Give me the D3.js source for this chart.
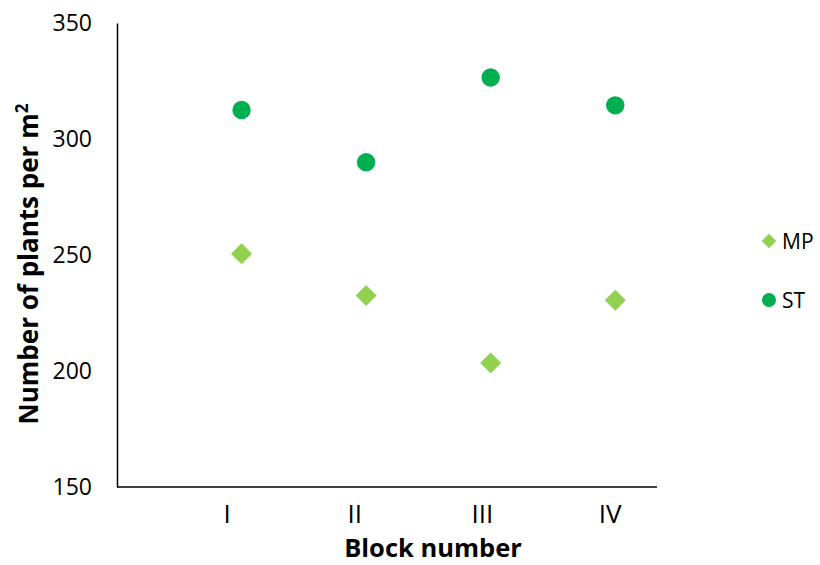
<!DOCTYPE html>
<html>
<head>
<meta charset="utf-8">
<script src="https://cdn.jsdelivr.net/npm/d3@7"></script>
<style>
  html, body { margin: 0; padding: 0; background: #ffffff; }
  svg { display: block; font-family: "Open Sans", "Noto Sans", sans-serif; }
</style>
</head>
<body>
<svg id="chart" width="820" height="565"></svg>
<script>
// Plant density per block for the two sowing methods
const blocks = ["I", "II", "III", "IV"];
const blockIndex = [1, 2, 3, 4];
const mpValues = [250.5, 232.5, 203.5, 230.5];
const stValues = [312.5, 290, 326.5, 314.5];
const yTicks = [150, 200, 250, 300, 350];
const seriesNames = ["MP", "ST"];
const seriesColors = ["#92D050", "#00B050"];

const svg = d3.select("#chart");

const plot = { left: 117, right: 657, top: 23, bottom: 487 };

// y scale for plant counts
const y = d3.scaleLinear().domain([150, 350]).range([plot.bottom, plot.top]);
// x position of the markers along the block axis
const x = d3.scaleLinear().domain([0, 4.335]).range([plot.left, plot.right]);
// x position of the block labels
const xLabel = d3.scalePoint().domain(blocks).range([226.5, 609.5]);

// y axis
const yAxis = svg.append("g")
  .attr("transform", `translate(${plot.left},0)`)
  .call(d3.axisLeft(y).tickValues(yTicks).tickSize(0).tickPadding(25).tickFormat(d3.format("d")));
yAxis.select(".domain").attr("stroke", "#000").attr("stroke-width", 1.5);
yAxis.selectAll("text")
  .attr("font-size", 23)
  .attr("font-family", "'Open Sans', sans-serif")
  .attr("fill", "#000");

// x axis line
svg.append("line")
  .attr("x1", plot.left).attr("x2", plot.right)
  .attr("y1", plot.bottom).attr("y2", plot.bottom)
  .attr("stroke", "#000").attr("stroke-width", 1.5);

// block labels
const xAxis = svg.append("g")
  .attr("transform", `translate(0,${plot.bottom})`)
  .call(d3.axisBottom(xLabel).tickSize(0).tickPadding(18));
xAxis.select(".domain").remove();
xAxis.selectAll("text")
  .attr("font-size", 26)
  .attr("font-family", "'Open Sans', sans-serif")
  .attr("fill", "#000");

// axis titles
svg.append("text")
  .attr("x", 433).attr("y", 557)
  .attr("text-anchor", "middle")
  .attr("font-size", 25.5).attr("font-weight", "bold")
  .attr("fill", "#000")
  .text("Block number");

const yTitle = svg.append("text")
  .attr("transform", "translate(38,264) rotate(-90)")
  .attr("text-anchor", "middle")
  .attr("font-size", 26).attr("font-weight", "bold")
  .attr("fill", "#000");
yTitle.append("tspan").text("Number of plants per m");
yTitle.append("tspan").attr("font-size", 17).attr("dy", -10).text("2");

// markers
const diamond = d3.symbol().type(d3.symbolSquare);
const circle = d3.symbol().type(d3.symbolCircle);

svg.append("g").selectAll("path")
  .data(mpValues)
  .join("path")
  .attr("d", diamond.size(220)())
  .attr("transform", (d, i) => `translate(${x(blockIndex[i])},${y(d)}) rotate(45)`)
  .attr("fill", seriesColors[0]);

svg.append("g").selectAll("path")
  .data(stValues)
  .join("path")
  .attr("d", circle.size(Math.PI * 9.2 * 9.2)())
  .attr("transform", (d, i) => `translate(${x(blockIndex[i])},${y(d)})`)
  .attr("fill", seriesColors[1]);

// legend
const legendRows = [
  { name: seriesNames[0], color: seriesColors[0], symbol: d3.symbol().type(d3.symbolSquare).size(108)(), rot: 45, cy: 241 },
  { name: seriesNames[1], color: seriesColors[1], symbol: d3.symbol().type(d3.symbolCircle).size(Math.PI * 49)(), rot: 0, cy: 300 }
];
const legend = svg.append("g");
legendRows.forEach(r => {
  legend.append("path")
    .attr("d", r.symbol)
    .attr("transform", `translate(769,${r.cy}) rotate(${r.rot})`)
    .attr("fill", r.color);
  legend.append("text")
    .attr("x", 782).attr("y", r.cy + 8)
    .attr("font-size", 21)
    .attr("fill", "#000")
    .text(r.name);
});
</script>
</body>
</html>
